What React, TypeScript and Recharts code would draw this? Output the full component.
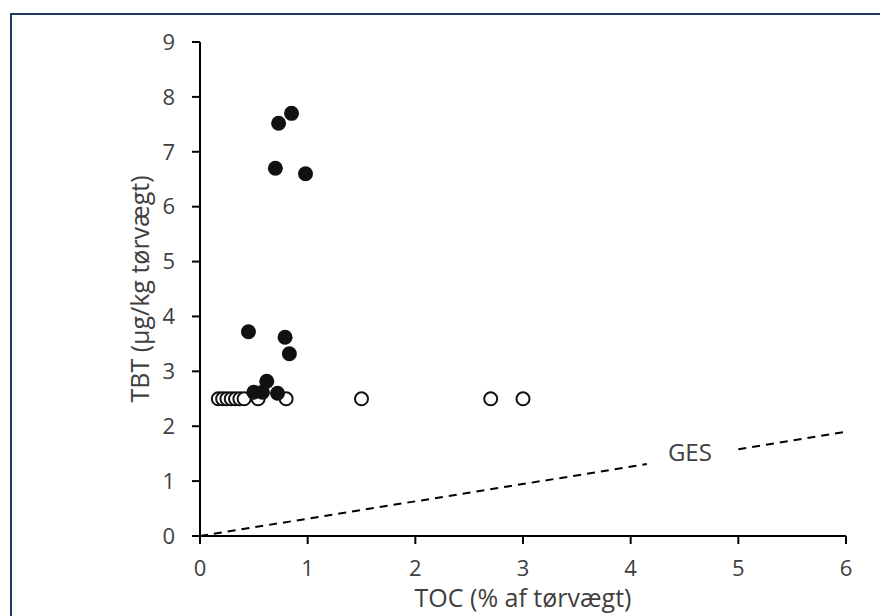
import { ScatterChart, Scatter, XAxis, YAxis, ReferenceLine, ReferenceDot } from 'recharts';

// TBT vs TOC, filled = measured above detection, open = below detection (2.5)
const filledToc = [0.73, 0.85, 0.7, 0.98, 0.45, 0.79, 0.83, 0.62, 0.5, 0.58, 0.72];
const filledTbt = [7.52, 7.7, 6.7, 6.6, 3.72, 3.62, 3.32, 2.82, 2.62, 2.62, 2.6];

const openToc = [0.17, 0.21, 0.25, 0.29, 0.33, 0.37, 0.41, 0.54, 0.8, 1.5, 2.7, 3.0];
const openTbt = [2.5, 2.5, 2.5, 2.5, 2.5, 2.5, 2.5, 2.5, 2.5, 2.5, 2.5, 2.5];

// GES line, broken around its label
const gesPartA = [{ x: 0, y: 0 }, { x: 4.15, y: 1.31 }];
const gesPartB = [{ x: 5.0, y: 1.58 }, { x: 6, y: 1.9 }];
const gesLabelAt = { x: 4.55, y: 1.53 };

const xTicks = [0, 1, 2, 3, 4, 5, 6];
const yTicks = [0, 1, 2, 3, 4, 5, 6, 7, 8, 9];

const filledData = filledToc.map((x, i) => ({ x, y: filledTbt[i] }));
const openData = openToc.map((x, i) => ({ x, y: openTbt[i] }));

const font = '"Open Sans", sans-serif';
const tickStyle = { fill: '#404040', fontSize: 22, fontFamily: font };

const FilledDot = (props: any) => <circle cx={props.cx} cy={props.cy} r={7.5} fill="#111" />;
const OpenDot = (props: any) => (
  <circle cx={props.cx} cy={props.cy} r={6.5} fill="#fff" stroke="#111" strokeWidth={2} />
);

export default function App() {
  return (
    <div style={{ position: 'absolute', left: 0, top: 0, width: 880, height: 616, background: '#fff', overflow: 'hidden' }}>
      <div
        style={{
          position: 'absolute',
          left: 10,
          top: 13,
          width: 900,
          height: 700,
          borderTop: '2px solid #1f3864',
          borderLeft: '2px solid #1f3864',
        }}
      />
      <div style={{ position: 'absolute', left: 0, top: 0 }}>
        <ScatterChart width={880} height={616} margin={{ top: 42, right: 34, bottom: 0, left: 0 }}>
          <XAxis
            type="number"
            dataKey="x"
            domain={[0, 6]}
            ticks={xTicks}
            height={80}
            stroke="#000"
            strokeWidth={2}
            tickSize={8}
            tickMargin={16}
            tick={tickStyle}
            tickLine={{ stroke: '#000', strokeWidth: 2 }}
            label={{ value: 'TOC (% af tørvægt)', position: 'insideBottom', offset: 9, fill: '#404040', fontSize: 25, fontFamily: font }}
          />
          <YAxis
            type="number"
            dataKey="y"
            domain={[0, 9]}
            ticks={yTicks}
            width={200}
            stroke="#000"
            strokeWidth={2}
            tickSize={8}
            tickMargin={17}
            tick={tickStyle}
            tickLine={{ stroke: '#000', strokeWidth: 2 }}
            label={{ value: 'TBT (µg/kg tørvægt)', angle: -90, position: 'center', dx: 40, fill: '#404040', fontSize: 25, fontFamily: font }}
          />
          <ReferenceLine
            segment={gesPartA}
            stroke="#000"
            strokeWidth={2}
            strokeDasharray="8 6"
          />
          <ReferenceLine
            segment={gesPartB}
            stroke="#000"
            strokeWidth={2}
            strokeDasharray="8 6"
          />
          <ReferenceDot
            x={gesLabelAt.x}
            y={gesLabelAt.y}
            r={0}
            fill="none"
            stroke="none"
            label={{ value: 'GES', position: 'center', fill: '#404040', fontSize: 24, fontFamily: font }}
          />
          <Scatter data={openData} shape={OpenDot} isAnimationActive={false} />
          <Scatter data={filledData} shape={FilledDot} isAnimationActive={false} />
        </ScatterChart>
      </div>
    </div>
  );
}
